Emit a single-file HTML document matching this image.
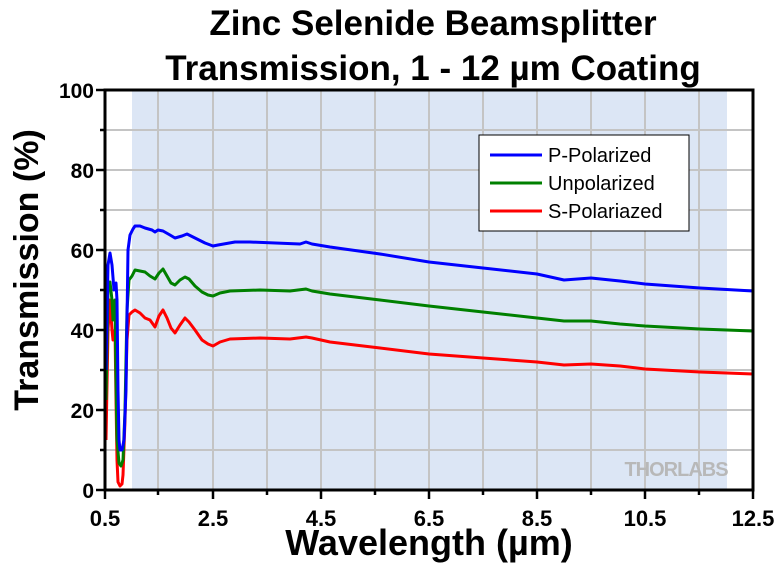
<!DOCTYPE html>
<html><head><meta charset="utf-8"><style>
body{margin:0;background:#fff;}
svg{display:block;font-family:"Liberation Sans",Arial,sans-serif;}
</style></head><body>
<svg width="780" height="565" viewBox="0 0 780 565">
<rect x="132" y="90" width="595" height="400" fill="#dce6f5"/>
<g stroke="#c4c4c4" stroke-width="2">
<line x1="158" y1="90" x2="158" y2="490"/><line x1="213" y1="90" x2="213" y2="490"/><line x1="267" y1="90" x2="267" y2="490"/><line x1="321" y1="90" x2="321" y2="490"/><line x1="375" y1="90" x2="375" y2="490"/><line x1="429" y1="90" x2="429" y2="490"/><line x1="483" y1="90" x2="483" y2="490"/><line x1="537" y1="90" x2="537" y2="490"/><line x1="591" y1="90" x2="591" y2="490"/><line x1="645" y1="90" x2="645" y2="490"/><line x1="699" y1="90" x2="699" y2="490"/>
<line x1="105" y1="130" x2="753" y2="130"/><line x1="105" y1="170" x2="753" y2="170"/><line x1="105" y1="210" x2="753" y2="210"/><line x1="105" y1="250" x2="753" y2="250"/><line x1="105" y1="290" x2="753" y2="290"/><line x1="105" y1="330" x2="753" y2="330"/><line x1="105" y1="370" x2="753" y2="370"/><line x1="105" y1="410" x2="753" y2="410"/><line x1="105" y1="450" x2="753" y2="450"/>
</g>
<text x="676" y="476" font-size="20" font-weight="bold" fill="#b8b8b8" text-anchor="middle" letter-spacing="-1">THORLABS</text>
<g fill="none" stroke-width="3" stroke-linejoin="round">
<polyline stroke="#ff0000" points="106,440 108,330 110,300 112,330 113,340 115,330 116,400 117,460 118,482 120,486 122,484 123,475 125,420 127,340 129,315 132,312 135,310 140,313 145,318 150,320 155,327 159,316 163,310 167,318 171,328 175,333 180,325 185,318 189,322 195,330 202,340 208,344 213,346 220,342 230,339 260,338 290,339 306,337 312,338 330,342 380,348 429,354 483,358 537,362 564,365 591,364 620,366 645,369 700,372 753,374"/>
<polyline stroke="#008000" points="106,400 108,290 110,282 112,300 113,320 115,300 116,380 117,440 119,463 121,466 123,460 125,410 127,310 129,280 132,276 135,270 140,271 145,272 150,276 155,279 159,273 163,269 167,276 171,283 175,285 180,280 185,277 189,279 195,286 202,292 208,295 213,296 220,293 230,291 260,290 290,291 306,289 312,291 330,294 380,300 429,306 483,312 537,318 564,321 591,321 620,324 645,326 700,329 753,331"/>
<polyline stroke="#0000ff" points="106,370 108,265 110,253 112,265 114,290 116,283 117,300 118,390 119,440 120,450 122,450 124,440 126,390 127,320 128,250 130,235 133,229 135,226 140,226 145,228 152,230 155,232 158,230 163,231 170,235 175,238 182,236 187,234 195,238 205,243 213,246 218,245 235,242 250,242 300,244 306,242 312,244 330,247 380,254 429,262 483,268 537,274 564,280 591,278 620,281 645,284 700,288 753,291"/>
</g>
<rect x="479" y="135" width="210" height="96" fill="#fff" stroke="#000" stroke-width="1"/>
<line x1="490" y1="155" x2="542" y2="155" stroke="#0000ff" stroke-width="3"/>
<line x1="490" y1="183" x2="542" y2="183" stroke="#008000" stroke-width="3"/>
<line x1="490" y1="211" x2="542" y2="211" stroke="#ff0000" stroke-width="3"/>
<g font-size="20"><text x="548" y="162">P-Polarized</text><text x="548" y="190">Unpolarized</text><text x="548" y="218">S-Polariazed</text></g>
<rect x="105" y="90" width="648" height="400" fill="none" stroke="#000" stroke-width="3"/>
<g stroke="#000" stroke-width="2.5">
<line x1="105" y1="490" x2="105" y2="499"/><line x1="213" y1="490" x2="213" y2="499"/><line x1="321" y1="490" x2="321" y2="499"/><line x1="429" y1="490" x2="429" y2="499"/><line x1="537" y1="490" x2="537" y2="499"/><line x1="645" y1="490" x2="645" y2="499"/><line x1="753" y1="490" x2="753" y2="499"/>
<line x1="158" y1="490" x2="158" y2="495"/><line x1="267" y1="490" x2="267" y2="495"/><line x1="375" y1="490" x2="375" y2="495"/><line x1="483" y1="490" x2="483" y2="495"/><line x1="591" y1="490" x2="591" y2="495"/><line x1="699" y1="490" x2="699" y2="495"/>
<line x1="96" y1="90" x2="105" y2="90"/><line x1="96" y1="170" x2="105" y2="170"/><line x1="96" y1="250" x2="105" y2="250"/><line x1="96" y1="330" x2="105" y2="330"/><line x1="96" y1="410" x2="105" y2="410"/><line x1="96" y1="490" x2="105" y2="490"/>
<line x1="100" y1="130" x2="105" y2="130"/><line x1="100" y1="210" x2="105" y2="210"/><line x1="100" y1="290" x2="105" y2="290"/><line x1="100" y1="370" x2="105" y2="370"/><line x1="100" y1="450" x2="105" y2="450"/>
</g>
<g font-size="22" font-weight="bold" text-anchor="middle">
<text x="105" y="526">0.5</text><text x="213" y="526">2.5</text><text x="321" y="526">4.5</text><text x="429" y="526">6.5</text><text x="537" y="526">8.5</text><text x="645" y="526">10.5</text><text x="753" y="526">12.5</text>
</g>
<g font-size="21" font-weight="bold" text-anchor="end">
<text x="94" y="98">100</text><text x="94" y="178">80</text><text x="94" y="258">60</text><text x="94" y="338">40</text><text x="94" y="418">20</text><text x="94" y="498">0</text>
</g>
<g font-weight="bold" text-anchor="middle">
<text x="433" y="35" font-size="35">Zinc Selenide Beamsplitter</text>
<text x="433" y="80" font-size="35">Transmission, 1 - 12 µm Coating</text>
<text x="429" y="555" font-size="36">Wavelength (µm)</text>
<text transform="translate(38,270) rotate(-90)" font-size="34">Transmission (%)</text>
</g>
</svg>
</body></html>
